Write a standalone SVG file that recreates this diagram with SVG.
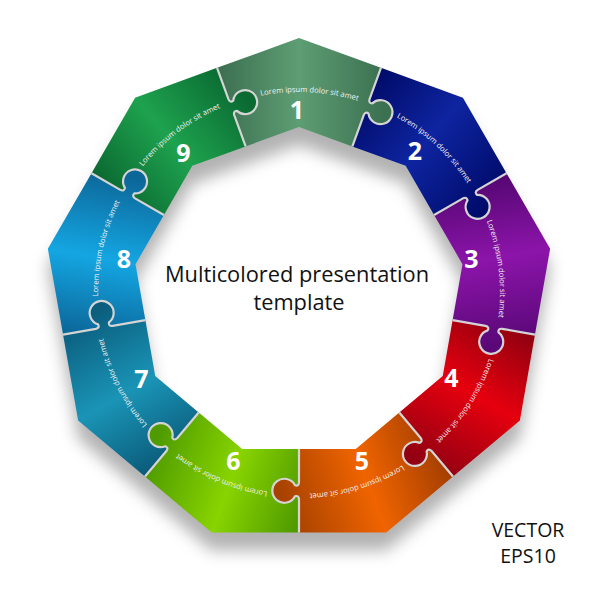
<svg xmlns="http://www.w3.org/2000/svg" xmlns:xlink="http://www.w3.org/1999/xlink" width="600" height="600" viewBox="0 0 600 600">
  <style>
    .lorem { font-family: "Open Sans", "Liberation Sans", sans-serif; font-size: 7.6px; fill: #f2f2f2; }
    .num { font-family: "Open Sans", "Liberation Sans", sans-serif; font-size: 25px; font-weight: bold; fill: #ffffff; text-anchor: middle; }
    .title { font-family: "Open Sans", "Liberation Sans", sans-serif; font-size: 21.8px; fill: #111111; text-anchor: middle; }
    .vec { font-family: "Open Sans", "Liberation Sans", sans-serif; font-size: 19.5px; fill: #111111; text-anchor: middle; }
    .joint { fill: none; stroke: #d4d4d4; stroke-width: 2.2; stroke-linejoin: round; }
  </style>
  <defs>
    <path id="shape" d="M -81.95,-225.15 L 0,-255 L 81.95,-225.15 L 70.56,-193.86 Q 69.37,-189.72 73.30,-189.67 A 12 12 0 1 1 69.53,-179.33 Q 66.50,-181.82 64.75,-177.88 L 53.35,-146.6 L 0,-166 L -53.35,-146.6 L -64.75,-177.88 Q -65.93,-182.02 -62.02,-182.06 A 12 12 0 1 0 -65.77,-192.41 Q -68.81,-189.92 -70.56,-193.86 Z"/>
    <path id="jointPath" d="M 81.95,-225.15 L 70.56,-193.86 Q 69.37,-189.72 73.30,-189.67 A 12 12 0 1 1 69.53,-179.33 Q 66.50,-181.82 64.75,-177.88 L 53.35,-146.6"/>
    <path id="arc" d="M -106.5,-170.4 A 201 201 0 0 1 123.8,-158.4"/>
    <filter id="shadow" filterUnits="userSpaceOnUse" x="0" y="0" width="600" height="600">
      <feGaussianBlur stdDeviation="8"/>
    </filter>
    <linearGradient id="g1" gradientUnits="userSpaceOnUse" x1="-85" y1="0" x2="85" y2="0">
      <stop offset="0" stop-color="#3a6c4e"/><stop offset="0.5" stop-color="#5e9e74"/><stop offset="1" stop-color="#3b7050"/>
    </linearGradient>
    <linearGradient id="g2" gradientUnits="userSpaceOnUse" x1="-85" y1="0" x2="85" y2="0">
      <stop offset="0" stop-color="#000a66"/><stop offset="0.5" stop-color="#0e24a0"/><stop offset="1" stop-color="#000c6c"/>
    </linearGradient>
    <linearGradient id="g3" gradientUnits="userSpaceOnUse" x1="-85" y1="0" x2="85" y2="0">
      <stop offset="0" stop-color="#52066f"/><stop offset="0.5" stop-color="#8c14aa"/><stop offset="1" stop-color="#5a0878"/>
    </linearGradient>
    <linearGradient id="g4" gradientUnits="userSpaceOnUse" x1="-85" y1="0" x2="85" y2="0">
      <stop offset="0" stop-color="#8a0010"/><stop offset="0.5" stop-color="#e6000e"/><stop offset="1" stop-color="#920012"/>
    </linearGradient>
    <linearGradient id="g5" gradientUnits="userSpaceOnUse" x1="-85" y1="0" x2="85" y2="0">
      <stop offset="0" stop-color="#a03c00"/><stop offset="0.5" stop-color="#f06400"/><stop offset="1" stop-color="#a84200"/>
    </linearGradient>
    <linearGradient id="g6" gradientUnits="userSpaceOnUse" x1="-85" y1="0" x2="85" y2="0">
      <stop offset="0" stop-color="#4a9400"/><stop offset="0.5" stop-color="#88d400"/><stop offset="1" stop-color="#4e9a00"/>
    </linearGradient>
    <linearGradient id="g7" gradientUnits="userSpaceOnUse" x1="-85" y1="0" x2="85" y2="0">
      <stop offset="0" stop-color="#0a5876"/><stop offset="0.5" stop-color="#1a94b6"/><stop offset="1" stop-color="#0b5e7e"/>
    </linearGradient>
    <linearGradient id="g8" gradientUnits="userSpaceOnUse" x1="-85" y1="0" x2="85" y2="0">
      <stop offset="0" stop-color="#0b6294"/><stop offset="0.5" stop-color="#14a6e2"/><stop offset="1" stop-color="#0c6698"/>
    </linearGradient>
    <linearGradient id="g9" gradientUnits="userSpaceOnUse" x1="-85" y1="0" x2="85" y2="0">
      <stop offset="0" stop-color="#0a6630"/><stop offset="0.5" stop-color="#1ea24e"/><stop offset="1" stop-color="#0a6a32"/>
    </linearGradient>
  </defs>

  <rect x="0" y="0" width="600" height="600" fill="#ffffff"/>

  <!-- soft shadow under the ring -->
  <path transform="translate(0,18)" filter="url(#shadow)" fill="#000" fill-opacity="0.3" fill-rule="evenodd"
        d="M 299,38 L 462.9,97.7 L 550.1,248.7 L 519.8,420.5 L 386.2,532.6 L 211.8,532.6 L 78.2,420.5 L 47.9,248.7 L 135.1,97.7 Z
           M 299,127 L 405.7,165.8 L 462.5,264.2 L 442.8,376 L 355.8,449 L 242.2,449 L 155.2,376 L 135.5,264.2 L 192.3,165.8 Z"/>

  <g id="piece-1">
    <g transform="translate(299 293) rotate(0)">
      <use href="#shape" fill="url(#g1)"/>
      <text class="lorem"><textPath href="#arc" startOffset="50%" text-anchor="middle">Lorem ipsum dolor sit amet</textPath></text>
    </g>
    <text class="num" x="297" y="119">1</text>
  </g>
  <g id="piece-2">
    <g transform="translate(299 293) rotate(40)">
      <use href="#shape" fill="url(#g2)"/>
      <text class="lorem"><textPath href="#arc" startOffset="50%" text-anchor="middle">Lorem ipsum dolor sit amet</textPath></text>
    </g>
    <text class="num" x="415" y="160">2</text>
  </g>
  <g id="piece-3">
    <g transform="translate(299 293) rotate(80)">
      <use href="#shape" fill="url(#g3)"/>
      <text class="lorem"><textPath href="#arc" startOffset="50%" text-anchor="middle">Lorem ipsum dolor sit amet</textPath></text>
    </g>
    <text class="num" x="471.5" y="268">3</text>
  </g>
  <g id="piece-4">
    <g transform="translate(299 293) rotate(120)">
      <use href="#shape" fill="url(#g4)"/>
      <text class="lorem"><textPath href="#arc" startOffset="50%" text-anchor="middle">Lorem ipsum dolor sit amet</textPath></text>
    </g>
    <text class="num" x="451.5" y="386.5">4</text>
  </g>
  <g id="piece-5">
    <g transform="translate(299 293) rotate(160)">
      <use href="#shape" fill="url(#g5)"/>
      <text class="lorem"><textPath href="#arc" startOffset="50%" text-anchor="middle">Lorem ipsum dolor sit amet</textPath></text>
    </g>
    <text class="num" x="362" y="470">5</text>
  </g>
  <g id="piece-6">
    <g transform="translate(299 293) rotate(200)">
      <use href="#shape" fill="url(#g6)"/>
      <text class="lorem"><textPath href="#arc" startOffset="50%" text-anchor="middle">Lorem ipsum dolor sit amet</textPath></text>
    </g>
    <text class="num" x="233.5" y="470">6</text>
  </g>
  <g id="piece-7">
    <g transform="translate(299 293) rotate(240)">
      <use href="#shape" fill="url(#g7)"/>
      <text class="lorem"><textPath href="#arc" startOffset="50%" text-anchor="middle">Lorem ipsum dolor sit amet</textPath></text>
    </g>
    <text class="num" x="141.5" y="388">7</text>
  </g>
  <g id="piece-8">
    <g transform="translate(299 293) rotate(280)">
      <use href="#shape" fill="url(#g8)"/>
      <text class="lorem"><textPath href="#arc" startOffset="50%" text-anchor="middle">Lorem ipsum dolor sit amet</textPath></text>
    </g>
    <text class="num" x="124" y="267.5">8</text>
  </g>
  <g id="piece-9">
    <g transform="translate(299 293) rotate(320)">
      <use href="#shape" fill="url(#g9)"/>
      <text class="lorem"><textPath href="#arc" startOffset="50%" text-anchor="middle">Lorem ipsum dolor sit amet</textPath></text>
    </g>
    <text class="num" x="183.5" y="162">9</text>
  </g>

  <g id="joints" class="joint" transform="translate(299 293)">
    <use href="#jointPath" transform="rotate(0)"/>
    <use href="#jointPath" transform="rotate(40)"/>
    <use href="#jointPath" transform="rotate(80)"/>
    <use href="#jointPath" transform="rotate(120)"/>
    <use href="#jointPath" transform="rotate(160)"/>
    <use href="#jointPath" transform="rotate(200)"/>
    <use href="#jointPath" transform="rotate(240)"/>
    <use href="#jointPath" transform="rotate(280)"/>
    <use href="#jointPath" transform="rotate(320)"/>
  </g>

  <g id="title">
    <text class="title" x="297" y="282">Multicolored presentation</text>
    <text class="title" x="299" y="310">template</text>
  </g>
  <g id="vector-label">
    <text class="vec" x="528" y="537">VECTOR</text>
    <text class="vec" x="528" y="563">EPS10</text>
  </g>
</svg>
